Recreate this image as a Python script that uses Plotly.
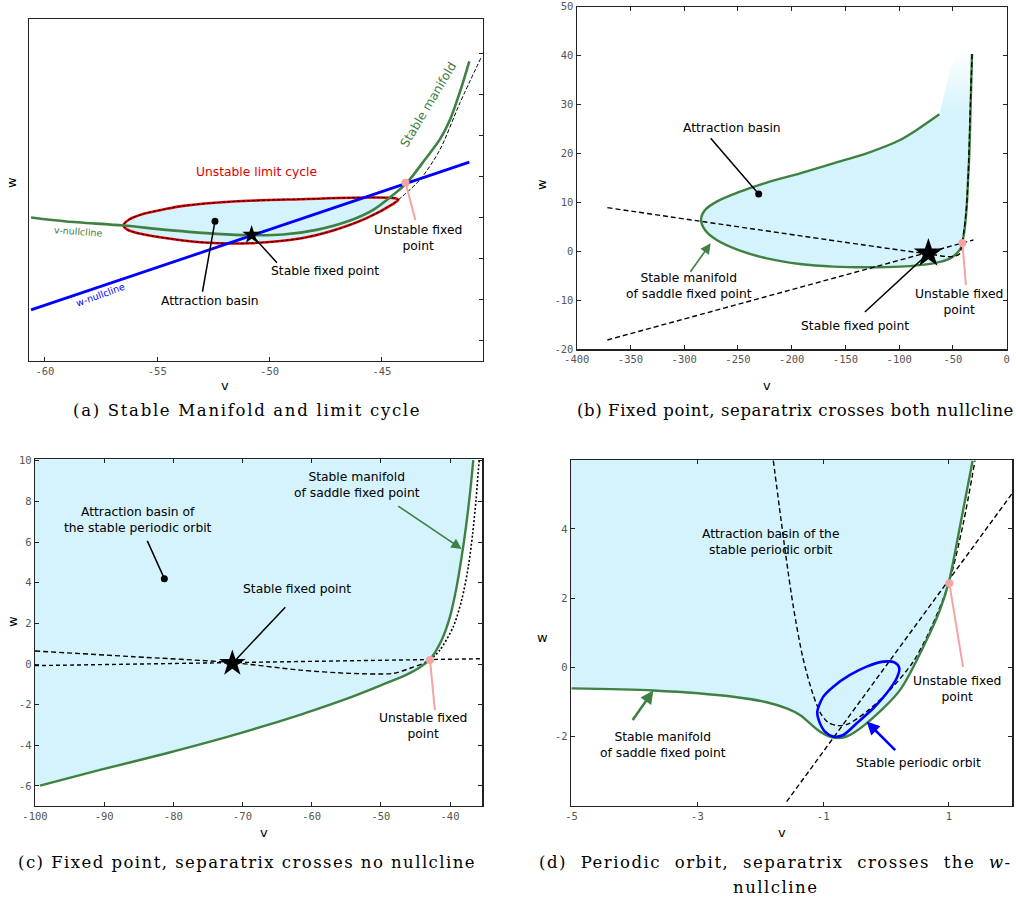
import plotly.graph_objects as go

# ================= DATA =================
# ---- Panel (a): stable manifold and limit cycle ----
a_vnull_v = [-60.62, -59.04, -56.51, -54.59, -52.36, -50.80, -49.39, -47.91, -46.42, -45.39, -44.50, -43.90, -43.09, -42.40, -41.97, -41.45, -41.11]
a_vnull_w = [3.008, 2.911, 2.813, 2.707, 2.610, 2.577, 2.593, 2.707, 2.935, 3.195, 3.561, 3.846, 4.415, 4.930, 5.390, 6.200, 6.813]
a_wnull_v = [-60.62, -41.11]
a_wnull_w = [0.756, 4.358]
a_cycle_v = [-56.51, -56.25, -55.60, -54.60, -53.84, -51.62, -48.65, -45.68, -44.42, -44.27, -44.50, -45.68, -47.17, -48.65, -50.88, -53.10, -54.88, -55.90, -56.35, -56.51]
a_cycle_w = [2.813, 2.960, 3.100, 3.220, 3.293, 3.398, 3.455, 3.496, 3.480, 3.439, 3.341, 2.992, 2.691, 2.496, 2.382, 2.407, 2.528, 2.630, 2.720, 2.813]
a_sep_v = [-44.27, -43.31, -42.42, -41.53, -40.56]
a_sep_w = [3.439, 3.927, 4.659, 5.797, 6.935]
a_stable_fp = [-50.80, 2.585]
a_unstable_fp = [-43.95, 3.854]
a_basin_pt = [-52.43, 2.919]
a_xticks = [-60, -55, -50, -45]
a_xlabels = ["-60", "-55", "-50", "-45"]
a_yticks = [0, 1, 2, 3, 4, 5, 6, 7]

# ---- Panel (b): fixed point, separatrix crosses both nullclines ----
b_manifold_v = [-62.63, -83.72, -99.22, -130.23, -161.24, -192.25, -223.25, -248.06, -269.77, -280.62, -284.34, -280.62, -269.77, -248.06, -223.25, -192.25, -161.24, -130.23, -99.22, -68.22, -55.80, -48.06, -42.78, -39.69, -37.21, -35.97, -34.73, -33.76, -33.49, -32.25]
b_manifold_w = [28.01, 24.81, 22.76, 20.04, 18.00, 15.95, 14.05, 12.21, 10.17, 8.46, 6.42, 4.38, 2.33, 0.16, -1.41, -2.57, -3.11, -3.25, -3.11, -2.43, -1.75, -0.73, 0.63, 3.70, 9.14, 14.59, 20.04, 28.0, 30.25, 40.33]
b_fade_v = [-62.63, -57.36, -52.71, -48.06, -32.25, -33.49, -33.76]
b_fade_w = [28.01, 32.98, 37.06, 40.47, 40.33, 30.25, 28.0]
b_vnull_v = [-371.47, -72.86, -51.16, -44.03, -41.30, -37.83, -35.97, -34.11, -32.25]
b_vnull_w = [8.94, -0.53, -1.07, -0.53, 2.0, 7.78, 14.59, 27.53, 40.33]
b_wnull_v = [-371.47, -31.0]
b_wnull_w = [-18.09, 2.33]
b_stable_fp = [-72.86, -0.40]
b_unstable_fp = [-41.2, 1.7]
b_basin_pt = [-230.70, 11.73]
b_xticks = [-400, -350, -300, -250, -200, -150, -100, -50, 0]
b_xlabels = ["-400", "-350", "-300", "-250", "-200", "-150", "-100", "-50", "0"]
b_yticks = [-20, -10, 0, 10, 20, 30, 40, 50]
b_ylabels = ["-20", "-10", "0", "10", "20", "30", "40", "50"]

# ---- Panel (c): fixed point, separatrix crosses no nullcline ----
c_manifold_v = [-99.28, -90.60, -80.96, -71.33, -61.69, -55.00, -50.00, -46.27, -44.34, -42.89, -41.20, -40.00, -39.13, -38.31, -37.69, -37.11, -36.63]
c_manifold_w = [-5.98, -5.21, -4.39, -3.50, -2.50, -1.72, -1.05, -0.52, -0.16, 0.23, 1.18, 2.33, 3.64, 5.28, 6.75, 8.39, 10.03]
c_fill_corner_v = [-36.45, -100.5, -100.5]
c_fill_corner_w = [10.2, 10.2, -5.98]
c_vnull_v = [-100.0, -85.78, -71.47, -61.69, -54.46, -48.19, -45.78, -43.86, -42.89]
c_vnull_w = [0.64, 0.36, 0.07, -0.30, -0.46, -0.46, -0.21, 0.03, 0.20]
c_vnull2_v = [-42.89, -41.45, -39.52, -38.31, -37.35, -36.72, -36.24, -35.90, -35.76]
c_vnull2_w = [0.20, 0.69, 1.84, 3.15, 4.79, 6.43, 8.07, 9.54, 10.03]
c_wnull_v = [-100.0, -35.33]
c_wnull_w = [-0.08, 0.26]
c_stable_fp = [-71.47, 0.03]
c_unstable_fp = [-42.89, 0.20]
c_basin_pt = [-81.30, 4.20]
c_xticks = [-100, -90, -80, -70, -60, -50, -40]
c_xlabels = ["-100", "-90", "-80", "-70", "-60", "-50", "-40"]
c_yticks = [-6, -4, -2, 0, 2, 4, 6, 8, 10]
c_ylabels = ["-6", "-4", "-2", "0", "2", "4", "6", "8", "10"]

# ---- Panel (d): periodic orbit, separatrix crosses the w-nullcline ----
d_manifold_v = [-5.0, -3.70, -2.43, -1.90, -1.58, -1.37, -1.05, -0.84, -0.63, -0.31, 0.22, 0.645, 0.857, 1.005, 1.175, 1.376]
d_manifold_w = [-0.61, -0.67, -0.85, -1.01, -1.19, -1.38, -1.86, -2.03, -2.00, -1.62, -0.66, 0.79, 1.66, 2.52, 4.07, 5.97]
d_fill_corner_v = [1.385, -5.05]
d_fill_corner_w = [6.05, 6.05]
d_vnull_v = [-1.793, -1.698, -1.592, -1.475, -1.327, -1.168, -1.041, -0.919, -0.760, -0.601, -0.309, 0.062, 0.433, 0.725, 1.005, 1.228, 1.414]
d_vnull_w = [5.973, 4.644, 3.198, 1.753, 0.308, -0.751, -1.329, -1.599, -1.686, -1.638, -1.281, -0.655, 0.164, 1.175, 2.476, 4.162, 5.973]
d_wnull_v = [-1.581, 2.007]
d_wnull_w = [-3.882, 5.029]
d_orbit_v = [-1.094, -0.998, -0.839, -0.574, -0.309, -0.044, 0.141, 0.210, 0.168, 0.009, -0.203, -0.468, -0.680, -0.839, -0.972, -1.062, -1.094]
d_orbit_w = [-1.281, -0.848, -0.559, -0.222, 0.019, 0.164, 0.135, -0.029, -0.318, -0.751, -1.185, -1.618, -1.956, -2.004, -1.859, -1.570, -1.281]
d_unstable_fp = [1.005, 2.43]
d_xticks = [-5, -3, -1, 1]
d_xlabels = ["-5", "-3", "-1", "1"]
d_yticks = [-2, 0, 2, 4]
d_ylabels = ["-2", "0", "2", "4"]

# ================= STYLE =================
FILL = "#d4f3fc"
GREEN = "#3f8043"
PINK = "#f5a3a3"
BLUE = "#0000ff"
RED = "#e00000"
TXT = "DejaVu Sans"

fig = go.Figure()


def refs(k):
    return ("x", "y") if k == 1 else (f"x{k}", f"y{k}")


def add_line(v, w, k, color, width, dash="solid", smooth=True):
    xr, yr = refs(k)
    fig.add_trace(go.Scatter(x=v, y=w, xaxis=xr, yaxis=yr, mode="lines",
                             line=dict(color=color, width=width, dash=dash,
                                       shape="spline" if smooth else "linear", smoothing=0.8),
                             hoverinfo="skip", showlegend=False))


def add_fill(v, w, k, color, smooth=True, gradient=None):
    xr, yr = refs(k)
    tr = go.Scatter(x=v, y=w, xaxis=xr, yaxis=yr, mode="lines", fill="toself", fillcolor=color,
                    line=dict(width=0, color=color, shape="spline" if smooth else "linear", smoothing=0.8),
                    hoverinfo="skip", showlegend=False)
    if gradient is not None:
        tr.fillgradient = gradient
    fig.add_trace(tr)


def add_pt(pt, k, symbol, size, color):
    xr, yr = refs(k)
    fig.add_trace(go.Scatter(x=[pt[0]], y=[pt[1]], xaxis=xr, yaxis=yr, mode="markers",
                             marker=dict(symbol=symbol, size=size, color=color, line=dict(width=0)),
                             hoverinfo="skip", showlegend=False))


# ---- panel (a) ----
add_fill(a_cycle_v, a_cycle_w, 1, FILL)
add_line(a_cycle_v, a_cycle_w, 1, RED, 2.6)
add_line(a_cycle_v, a_cycle_w, 1, "black", 1, dash="3px,2px")
add_line(a_sep_v, a_sep_w, 1, "black", 1, dash="4px,2px")
add_line(a_vnull_v, a_vnull_w, 1, GREEN, 2.6)
add_line(a_wnull_v, a_wnull_w, 1, BLUE, 2.8, smooth=False)
add_pt(a_basin_pt, 1, "circle", 7, "black")
add_pt(a_unstable_fp, 1, "circle", 8, PINK)
add_pt(a_stable_fp, 1, "star", 14, "black")

# ---- panel (b) ----
add_fill(b_manifold_v[:28], b_manifold_w[:28], 2, FILL)
add_fill(b_fade_v, b_fade_w, 2, FILL, smooth=False,
         gradient=dict(type="vertical", colorscale=[[0, FILL], [1, "rgba(255,255,255,1)"]], start=28, stop=41))
add_line(b_manifold_v, b_manifold_w, 2, GREEN, 2.4)
add_line(b_vnull_v, b_vnull_w, 2, "black", 1.4, dash="5px,3px")
add_line(b_wnull_v, b_wnull_w, 2, "black", 1.4, dash="5px,3px", smooth=False)
add_pt(b_basin_pt, 2, "circle", 7, "black")
add_pt(b_unstable_fp, 2, "circle", 8, PINK)
add_pt(b_stable_fp, 2, "star", 22, "black")

# ---- panel (c) ----
add_fill(c_manifold_v + c_fill_corner_v, c_manifold_w + c_fill_corner_w, 3, FILL, smooth=False)
add_line(c_vnull_v, c_vnull_w, 3, "black", 1.4, dash="5px,3px")
add_line(c_vnull2_v, c_vnull2_w, 3, "black", 1.6, dash="2px,2px")
add_line(c_wnull_v, c_wnull_w, 3, "black", 1.4, dash="4px,3px", smooth=False)
add_line(c_manifold_v, c_manifold_w, 3, GREEN, 2.4)
add_pt(c_basin_pt, 3, "circle", 7, "black")
add_pt(c_unstable_fp, 3, "circle", 8, PINK)
add_pt(c_stable_fp, 3, "star", 20, "black")

# ---- panel (d) ----
add_fill(d_manifold_v + d_fill_corner_v, d_manifold_w + d_fill_corner_w, 4, FILL, smooth=False)
add_line(d_vnull_v, d_vnull_w, 4, "black", 1.4, dash="5px,3px")
add_line(d_wnull_v, d_wnull_w, 4, "black", 1.4, dash="5px,3px", smooth=False)
add_line(d_manifold_v, d_manifold_w, 4, GREEN, 2.4)
add_line(d_orbit_v, d_orbit_w, 4, BLUE, 2.6)
add_pt(d_unstable_fp, 4, "circle", 8, PINK)

# ================= AXES =================
W, H = 1016, 899
TICKFONT = dict(family="DejaVu Sans Mono", size=10.5, color="#555555")


def axis(dom, rng, anchor, tickvals, ticktext=None, mirror="ticks", labels=True, side=None):
    d = dict(domain=dom, range=rng, anchor=anchor, showgrid=False, zeroline=False, automargin=False,
             showline=True, linecolor="#222222", linewidth=1.2, mirror=mirror,
             ticks="inside", ticklen=4, tickwidth=1, tickcolor="#222222",
             tickvals=tickvals, showticklabels=labels, tickfont=TICKFONT, fixedrange=True)
    if ticktext is not None:
        d["ticktext"] = ticktext
    if side:
        d["side"] = side
    return d


def px_dom(a, b):
    return [a / W, b / W]


def py_dom(top, bottom):
    return [1 - bottom / H, 1 - top / H]


fig.update_layout(
    width=W, height=H, autosize=False, margin=dict(l=0, r=0, t=0, b=0, pad=0),
    paper_bgcolor="white", plot_bgcolor="white", showlegend=False,
    xaxis=axis(px_dom(29, 483), [-60.71, -40.50], "y", a_xticks, a_xlabels, mirror=True),
    yaxis=axis(py_dom(19, 361), [-0.488, 7.846], "x", a_yticks, mirror=True, labels=False, side="right"),
    xaxis2=axis(px_dom(576.7, 1006.7), [-400, 0], "y2", b_xticks, b_xlabels),
    yaxis2=axis(py_dom(6.7, 349.3), [-20, 50], "x2", b_yticks, b_ylabels),
    xaxis3=axis(px_dom(35, 482.3), [-100, -35.33], "y3", c_xticks, c_xlabels),
    yaxis3=axis(py_dom(459.3, 805.7), [-6.97, 10.07], "x3", c_yticks, c_ylabels),
    xaxis4=axis(px_dom(571, 1012.3), [-5.01, 2.007], "y4", d_xticks, d_xlabels),
    yaxis4=axis(py_dom(460, 805.7), [-4.0, 5.99], "x4", d_yticks, d_ylabels),
)

# ================= ANNOTATIONS =================
ann = []


def txt(k, x, y, text, size=12.3, color="black", angle=0):
    xr, yr = refs(k)
    ann.append(dict(xref=xr, yref=yr, x=x, y=y, text=text, showarrow=False, textangle=angle,
                    font=dict(family=TXT, size=size, color=color), xanchor="center", yanchor="middle"))


def link(k, tail, head, color="black", width=1.5, head_style=0, headsize=1.0):
    xr, yr = refs(k)
    ann.append(dict(xref=xr, yref=yr, axref=xr, ayref=yr, x=head[0], y=head[1], ax=tail[0], ay=tail[1],
                    text="", showarrow=True, arrowhead=head_style, arrowsize=headsize, arrowwidth=width,
                    arrowcolor=color, standoff=0, startstandoff=0))


def ptxt(xpx, ypx, text, size, family=TXT, color="black", angle=0):
    ann.append(dict(xref="paper", yref="paper", x=xpx / W, y=1 - ypx / H, text=text, showarrow=False,
                    textangle=angle, font=dict(family=family, size=size, color=color),
                    xanchor="center", yanchor="middle"))


# panel (a)
txt(1, -50.58, 4.114, "Unstable limit cycle", color=RED)
txt(1, -42.94, 5.756, "Stable manifold", color=GREEN, angle=-59)
txt(1, -58.52, 2.667, "v-nullcline", size=9.5, color=GREEN, angle=4)
txt(1, -57.51, 1.122, "w-nullcline", size=9.5, color=BLUE, angle=-20)
link(1, [-53.00, 1.163], a_basin_pt)
txt(1, -52.66, 0.984, "Attraction basin")
link(1, [-49.61, 1.870], a_stable_fp)
txt(1, -47.54, 1.707, "Stable fixed point")
link(1, [-43.49, 2.911], a_unstable_fp, color=PINK, width=2)
txt(1, -43.41, 2.512, "Unstable fixed<br>point")

# panel (b)
link(2, [-276.59, 23.44], b_basin_pt)
txt(2, -255.81, 25.15, "Attraction basin")
link(2, [-295.19, -4.47], [-275.35, 1.65], color=GREEN, width=1.6, head_style=2, headsize=1.3)
txt(2, -295.81, -7.1, "Stable manifold<br>of saddle fixed point")
link(2, [-133.33, -12.65], b_stable_fp)
txt(2, -141.08, -15.23, "Stable fixed point")
link(2, [-37.83, -7.20], b_unstable_fp, color=PINK, width=2)
txt(2, -44.03, -10.36, "Unstable fixed<br>point")

# panel (c)
link(3, [-83.86, 6.13], c_basin_pt)
txt(3, -85.06, 7.07, "Attraction basin of<br>the stable periodic orbit")
link(3, [-63.61, 2.87], c_stable_fp)
txt(3, -62.17, 3.67, "Stable fixed point")
link(3, [-47.71, 7.82], [-38.31, 5.66], color=GREEN, width=1.6, head_style=2, headsize=1.3)
txt(3, -53.49, 8.79, "Stable manifold<br>of saddle fixed point")
link(3, [-42.17, -2.34], c_unstable_fp, color=PINK, width=2)
txt(3, -43.86, -3.07, "Unstable fixed<br>point")

# panel (d)
txt(4, -1.83, 3.622, "Attraction basin of the<br>stable periodic orbit")
link(4, [1.228, -0.029], d_unstable_fp, color=PINK, width=2)
txt(4, 1.122, -0.636, "Unstable fixed<br>point")
link(4, [-4.046, -1.570], [-3.701, -0.674], color=GREEN, width=2.6, head_style=2, headsize=1.0)
txt(4, -3.553, -2.245, "Stable manifold<br>of saddle fixed point")
link(4, [0.168, -2.437], [-0.309, -1.570], color=BLUE, width=2.6, head_style=2, headsize=1.0)
txt(4, 0.512, -2.755, "Stable periodic orbit")

# axis titles
ptxt(225, 385, "v", 13)
ptxt(12, 183, "w", 13, angle=-90)
ptxt(767, 385, "v", 13)
ptxt(541, 185, "w", 13, angle=-90)
ptxt(264, 832, "v", 13)
ptxt(12, 622, "w", 13, angle=-90)
ptxt(782, 832, "v", 13)
ptxt(542, 637, "w", 13)


# captions (serif, letter-spaced like the typeset original)
def cap(xpx, ypx, text, ls, ws=0):
    ptxt(xpx, ypx, f'<span style="letter-spacing:{ls}px;word-spacing:{ws}px">{text}</span>', 16.5,
         family="DejaVu Serif")


cap(247, 411, "(a) Stable Manifold and limit cycle", 1.7)
cap(795, 411, "(b) Fixed point, separatrix crosses both nullcline", 0.6)
cap(247, 862, "(c) Fixed point, separatrix crosses no nullcline", 1.45)
cap(775, 862, "(d) Periodic orbit, separatrix crosses the <i>w</i>-", 1.5, 7)
cap(776, 887, "nullcline", 1.5)

fig.update_layout(annotations=ann)
fig.write_html("out.html", config={"displayModeBar": False, "staticPlot": True},
               post_script="document.body.style.margin='0px';")
